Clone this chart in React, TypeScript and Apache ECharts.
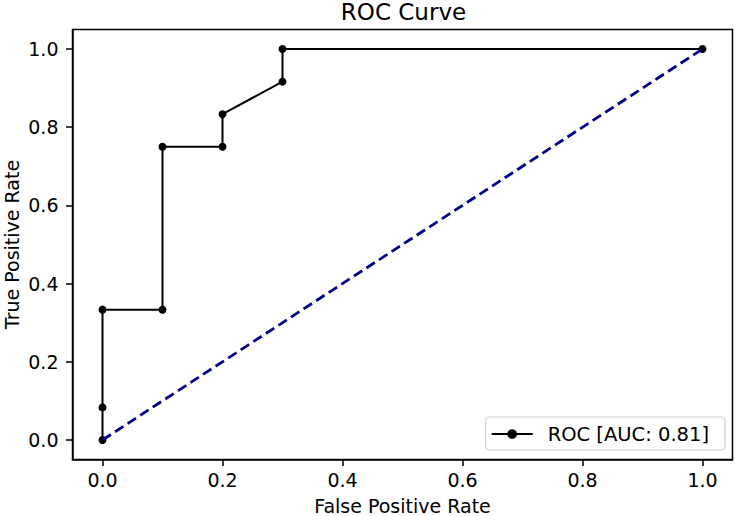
import React, { useEffect, useRef } from "react";
import * as echarts from "echarts";

const fpr = [0, 0, 0, 0.1, 0.1, 0.2, 0.2, 0.3, 0.3, 1.0];
const tpr = [0, 0.0833, 0.3333, 0.3333, 0.75, 0.75, 0.8333, 0.9167, 1.0, 1.0];
const diagX = [0, 1];
const diagY = [0, 1];
const tickValues = [0, 0.2, 0.4, 0.6, 0.8, 1.0];
const legendLabel = "ROC [AUC: 0.81]";

const FONT = "DejaVu Sans";

export default function App() {
  const ref = useRef<HTMLDivElement>(null);
  useEffect(() => {
    if (!ref.current) return;
    const chart = echarts.init(ref.current, null, { renderer: "svg" });
    const axisCommon = (name: string, isX: boolean) => ({
      type: "value",
      min: -0.05,
      max: 1.05,
      name,
      nameLocation: "middle",
      nameGap: isX ? 37 : 51,
      nameMoveOverlap: false,
      nameTextStyle: { fontFamily: FONT, fontSize: 19, color: "#000" },
      axisLine: { show: true, onZero: false, lineStyle: { color: "#000", width: 1.5 } },
      axisTick: {
        show: true,
        length: 6.5,
        inside: false,
        customValues: tickValues,
        lineStyle: { color: "#000", width: 1.5 },
      },
      axisLabel: {
        show: true,
        customValues: tickValues,
        margin: isX ? 11 : 14,
        fontFamily: FONT,
        fontSize: 19,
        color: "#000",
        formatter: (v: number) => v.toFixed(1),
      },
      splitLine: { show: false },
    });
    chart.setOption({
      animation: false,
      backgroundColor: "#fff",
      title: {
        text: "ROC Curve",
        left: 403.5,
        textAlign: "center",
        top: 0,
        padding: 0,
        textStyle: { fontFamily: FONT, fontSize: 23, fontWeight: "normal", color: "#000" },
      },
      grid: {
        left: 72.5,
        top: 29.5,
        width: 660,
        height: 430,
        containLabel: false,
        outerBoundsMode: "none",
        show: true,
        borderColor: "#000",
        borderWidth: 1.5,
        backgroundColor: "transparent",
      },
      xAxis: axisCommon("False Positive Rate", true),
      yAxis: axisCommon("True Positive Rate", false),
      legend: {
        data: [legendLabel],
        right: 11,
        bottom: 66,
        orient: "vertical",
        backgroundColor: "#fff",
        borderColor: "#d0d0d0",
        borderWidth: 1.2,
        borderRadius: 4,
        padding: [7, 16, 6, 5],
        itemWidth: 41,
        itemHeight: 12,
        itemGap: 12,
        textStyle: { fontFamily: FONT, fontSize: 19.5, color: "#000", padding: [0, 0, 0, 10] },
      },
      series: [
        {
          name: legendLabel,
          type: "line",
          data: fpr.map((x, i) => [x, tpr[i]]),
          symbol: "circle",
          symbolSize: 8,
          showSymbol: true,
          lineStyle: { color: "#000", width: 2 },
          itemStyle: { color: "#000" },
          z: 3,
        },
        {
          name: "diag",
          type: "line",
          data: diagX.map((x, i) => [x, diagY[i]]),
          symbol: "none",
          lineStyle: { color: "#00008b", width: 2.8, type: [10, 5] },
          z: 4,
        },
      ],
    });
    return () => chart.dispose();
  }, []);
  return <div ref={ref} style={{ width: 736, height: 516, position: "fixed", left: 0, top: 0 }} />;
}
